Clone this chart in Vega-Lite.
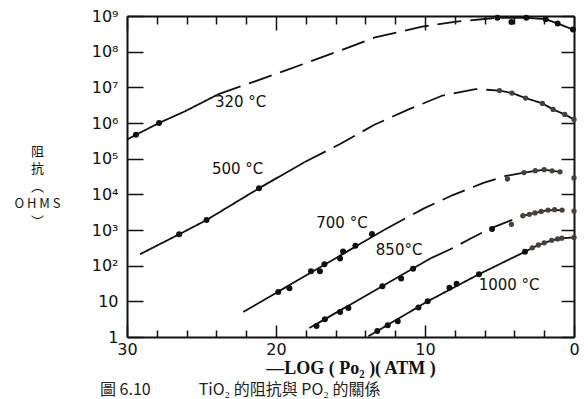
{
  "$schema": "https://vega.github.io/schema/vega-lite/v6.json",
  "width": 447,
  "height": 321,
  "autosize": {"type": "none"},
  "padding": {"left": 127, "top": 16, "right": 14, "bottom": 62},
  "background": "white",
  "config": {
    "view": {"stroke": null},
    "axis": {"domainColor": "#111", "domainWidth": 2, "tickColor": "#111", "tickWidth": 1.5, "grid": false, "labelColor": "#111", "titleColor": "#111"}
  },
  "title": {"text": "圖 6.10　　　TiO₂ 的阻抗與 PO₂ 的關係", "orient": "bottom", "anchor": "start", "frame": "group", "dx": -27, "offset": 5, "font": "Noto Sans CJK TC", "fontSize": 16, "fontWeight": "normal", "color": "#222"},
  "datasets": {
    "lines": [
      {"c": "320", "g": "a", "s": "solid", "x": 30, "r": 338844},
      {"c": "320", "g": "a", "s": "solid", "x": 29.4, "r": 467735},
      {"c": "320", "g": "a", "s": "solid", "x": 27.85, "r": 1000000},
      {"c": "320", "g": "a", "s": "solid", "x": 26.1, "r": 2138000},
      {"c": "320", "g": "a", "s": "solid", "x": 23.9, "r": 6310000},
      {"c": "320", "g": "b", "s": "dashed", "x": 23.9, "r": 6310000},
      {"c": "320", "g": "b", "s": "dashed", "x": 19.3, "r": 30200000},
      {"c": "320", "g": "b", "s": "dashed", "x": 15.9, "r": 100000000},
      {"c": "320", "g": "b", "s": "dashed", "x": 13.35, "r": 251200000},
      {"c": "320", "g": "b", "s": "dashed", "x": 10.2, "r": 501200000},
      {"c": "320", "g": "b", "s": "dashed", "x": 7.9, "r": 691800000},
      {"c": "320", "g": "b", "s": "dashed", "x": 5.7, "r": 851100000},
      {"c": "320", "g": "b", "s": "dashed", "x": 5.14, "r": 891300000},
      {"c": "320", "g": "c", "s": "solid", "x": 5.14, "r": 891300000},
      {"c": "320", "g": "c", "s": "solid", "x": 3.2, "r": 891300000},
      {"c": "320", "g": "c", "s": "solid", "x": 1.9, "r": 812800000},
      {"c": "320", "g": "c", "s": "solid", "x": 1.1, "r": 616600000},
      {"c": "320", "g": "c", "s": "solid", "x": 0.07, "r": 416900000},
      {"c": "500", "g": "a", "s": "solid", "x": 29.13, "r": 208.9},
      {"c": "500", "g": "a", "s": "solid", "x": 26.5, "r": 758.6},
      {"c": "500", "g": "a", "s": "solid", "x": 24.66, "r": 1905},
      {"c": "500", "g": "a", "s": "solid", "x": 21.14, "r": 14791},
      {"c": "500", "g": "a", "s": "solid", "x": 18.1, "r": 79433},
      {"c": "500", "g": "b", "s": "dashed", "x": 18.1, "r": 79433},
      {"c": "500", "g": "b", "s": "dashed", "x": 15.7, "r": 257040},
      {"c": "500", "g": "b", "s": "dashed", "x": 13.4, "r": 891251},
      {"c": "500", "g": "b", "s": "dashed", "x": 11.1, "r": 2399000},
      {"c": "500", "g": "b", "s": "dashed", "x": 8.82, "r": 5888000},
      {"c": "500", "g": "b", "s": "dashed", "x": 6.6, "r": 8913000},
      {"c": "500", "g": "b", "s": "dashed", "x": 5.0, "r": 8128000},
      {"c": "500", "g": "c", "s": "solid", "x": 5.0, "r": 8128000},
      {"c": "500", "g": "c", "s": "solid", "x": 4.16, "r": 6918000},
      {"c": "500", "g": "c", "s": "solid", "x": 3.25, "r": 5012000},
      {"c": "500", "g": "c", "s": "solid", "x": 2.12, "r": 3548000},
      {"c": "500", "g": "c", "s": "solid", "x": 1.4, "r": 2399000},
      {"c": "500", "g": "c", "s": "solid", "x": 0.62, "r": 1738000},
      {"c": "500", "g": "c", "s": "solid", "x": 0, "r": 1259000},
      {"c": "700", "g": "a", "s": "solid", "x": 22.2, "r": 5.012},
      {"c": "700", "g": "a", "s": "solid", "x": 12.75, "r": 1000},
      {"c": "700", "g": "b", "s": "dashed", "x": 12.75, "r": 1000},
      {"c": "700", "g": "b", "s": "dashed", "x": 10.1, "r": 3981},
      {"c": "700", "g": "b", "s": "dashed", "x": 8.13, "r": 9550},
      {"c": "700", "g": "b", "s": "dashed", "x": 6.08, "r": 20893},
      {"c": "700", "g": "b", "s": "dashed", "x": 4.64, "r": 32359},
      {"c": "700", "g": "b", "s": "dashed", "x": 3.36, "r": 40738},
      {"c": "700", "g": "c", "s": "solid", "x": 3.36, "r": 40738},
      {"c": "700", "g": "c", "s": "solid", "x": 2.0, "r": 48978},
      {"c": "700", "g": "c", "s": "solid", "x": 1.47, "r": 45709},
      {"c": "700", "g": "c", "s": "solid", "x": 0.94, "r": 42658},
      {"c": "850", "g": "a", "s": "solid", "x": 17.76, "r": 1.778},
      {"c": "850", "g": "a", "s": "solid", "x": 9.6, "r": 162.2},
      {"c": "850", "g": "b", "s": "dashed", "x": 9.6, "r": 162.2},
      {"c": "850", "g": "b", "s": "dashed", "x": 8.3, "r": 288.4},
      {"c": "850", "g": "b", "s": "dashed", "x": 6.93, "r": 575.4},
      {"c": "850", "g": "b", "s": "dashed", "x": 5.69, "r": 1072},
      {"c": "850", "g": "b", "s": "dashed", "x": 3.43, "r": 2512},
      {"c": "850", "g": "c", "s": "solid", "x": 3.43, "r": 2512},
      {"c": "850", "g": "c", "s": "solid", "x": 2.62, "r": 3020},
      {"c": "850", "g": "c", "s": "solid", "x": 1.74, "r": 3631},
      {"c": "850", "g": "c", "s": "solid", "x": 0.8, "r": 3631},
      {"c": "1000", "g": "a", "s": "solid", "x": 13.8, "r": 1.047},
      {"c": "1000", "g": "a", "s": "solid", "x": 9.82, "r": 10},
      {"c": "1000", "g": "a", "s": "solid", "x": 6.38, "r": 57.5},
      {"c": "1000", "g": "a", "s": "solid", "x": 3.29, "r": 245.5},
      {"c": "1000", "g": "a", "s": "solid", "x": 2.39, "r": 380.2},
      {"c": "1000", "g": "a", "s": "solid", "x": 1.5, "r": 512.9},
      {"c": "1000", "g": "a", "s": "solid", "x": 0.82, "r": 588.8},
      {"c": "1000", "g": "a", "s": "solid", "x": 0, "r": 616.6}
    ],
    "pts": [
      {"c": "320", "x": 29.4, "r": 467735},
      {"c": "320", "x": 27.85, "r": 1000000},
      {"c": "320", "x": 5.14, "r": 891300000},
      {"c": "320", "x": 4.2, "r": 676100000},
      {"c": "320", "x": 3.2, "r": 891300000},
      {"c": "320", "x": 1.9, "r": 812800000},
      {"c": "320", "x": 1.1, "r": 616600000},
      {"c": "320", "x": 0.07, "r": 416900000},
      {"c": "500", "x": 26.5, "r": 758.6},
      {"c": "500", "x": 24.66, "r": 1905},
      {"c": "500", "x": 21.14, "r": 14791},
      {"c": "700", "x": 19.85, "r": 18.2},
      {"c": "700", "x": 19.1, "r": 23.44},
      {"c": "700", "x": 17.65, "r": 69.2},
      {"c": "700", "x": 17.05, "r": 69.2},
      {"c": "700", "x": 16.75, "r": 109.6},
      {"c": "700", "x": 15.7, "r": 158.5},
      {"c": "700", "x": 15.5, "r": 251.2},
      {"c": "700", "x": 14.67, "r": 363.1},
      {"c": "700", "x": 13.56, "r": 776.2},
      {"c": "850", "x": 17.28, "r": 2.042},
      {"c": "850", "x": 16.72, "r": 3.162},
      {"c": "850", "x": 15.7, "r": 5.012},
      {"c": "850", "x": 15.14, "r": 6.457},
      {"c": "850", "x": 12.86, "r": 26.3},
      {"c": "850", "x": 11.6, "r": 43.65},
      {"c": "850", "x": 10.8, "r": 81.3},
      {"c": "850", "x": 5.5, "r": 1072},
      {"c": "1000", "x": 13.2, "r": 1.479},
      {"c": "1000", "x": 12.5, "r": 2.138},
      {"c": "1000", "x": 11.83, "r": 2.754},
      {"c": "1000", "x": 10.44, "r": 6.761},
      {"c": "1000", "x": 9.82, "r": 10},
      {"c": "1000", "x": 8.36, "r": 23.99},
      {"c": "1000", "x": 7.88, "r": 30.9},
      {"c": "1000", "x": 6.38, "r": 57.5},
      {"c": "1000", "x": 3.29, "r": 245.5}
    ],
    "tail": [
      {"c": "500", "x": 5.0, "r": 8128000},
      {"c": "500", "x": 4.16, "r": 6918000},
      {"c": "500", "x": 3.25, "r": 5012000},
      {"c": "500", "x": 2.12, "r": 3548000},
      {"c": "500", "x": 1.4, "r": 2399000},
      {"c": "500", "x": 0.62, "r": 1738000},
      {"c": "500", "x": 0, "r": 1259000},
      {"c": "700", "x": 4.46, "r": 26915},
      {"c": "700", "x": 3.36, "r": 40738},
      {"c": "700", "x": 2.6, "r": 46000},
      {"c": "700", "x": 2.0, "r": 48978},
      {"c": "700", "x": 1.47, "r": 45709},
      {"c": "700", "x": 0.94, "r": 42658},
      {"c": "700", "x": 0, "r": 28840},
      {"c": "850", "x": 4.2, "r": 1445},
      {"c": "850", "x": 3.43, "r": 2512},
      {"c": "850", "x": 3.0, "r": 2754},
      {"c": "850", "x": 2.62, "r": 3020},
      {"c": "850", "x": 2.2, "r": 3311},
      {"c": "850", "x": 1.74, "r": 3631},
      {"c": "850", "x": 1.3, "r": 3715},
      {"c": "850", "x": 0.8, "r": 3631},
      {"c": "850", "x": 0, "r": 3388},
      {"c": "1000", "x": 2.8, "r": 316.2},
      {"c": "1000", "x": 2.39, "r": 380.2},
      {"c": "1000", "x": 2.0, "r": 436.5},
      {"c": "1000", "x": 1.5, "r": 512.9},
      {"c": "1000", "x": 1.1, "r": 562.3},
      {"c": "1000", "x": 0.82, "r": 588.8},
      {"c": "1000", "x": 0, "r": 616.6}
    ],
    "labels": [
      {"t": "320 °C", "x": 24.1, "r": 3800000},
      {"t": "500 °C", "x": 24.3, "r": 50000},
      {"t": "700 °C", "x": 17.3, "r": 1622},
      {"t": "850°C", "x": 13.3, "r": 275},
      {"t": "1000 °C", "x": 6.4, "r": 28.8}
    ]
  },
  "layer": [
    {
      "data": {"name": "lines"},
      "mark": {"type": "line", "strokeWidth": 1.8, "color": "#111"},
      "encoding": {
        "x": {"field": "x", "type": "quantitative", "scale": {"domain": [0, 30], "reverse": true, "nice": false, "zero": false},
          "axis": {"orient": "bottom", "values": [0, 2, 4, 6, 8, 10, 12, 14, 16, 18, 20, 22, 24, 26, 28, 30],
            "labelExpr": "datum.value % 10 === 0 ? datum.label : ''",
            "tickSize": {"condition": {"test": "datum.value % 10 === 0", "value": -12}, "value": -7},
            "labelPadding": 16, "labelFont": "DejaVu Sans", "labelFontSize": 16, "labelFlush": false,
            "title": "—LOG ( Po₂ )( ATM )", "titleFont": "Liberation Serif", "titleFontSize": 18, "titleFontWeight": "bold", "titlePadding": 2}},
        "y": {"field": "r", "type": "quantitative", "scale": {"type": "log", "domain": [1, 1000000000], "nice": false},
          "axis": {"orient": "left", "values": [1, 10, 100, 1000, 10000, 100000, 1000000, 10000000, 100000000, 1000000000],
            "labelExpr": "datum.value < 5 ? '1' : datum.value < 50 ? '10' : '10' + ['','','²','³','⁴','⁵','⁶','⁷','⁸','⁹'][round(log(datum.value)/LN10)]",
            "tickSize": -16, "labelPadding": 25, "labelFont": "DejaVu Sans", "labelFontSize": 16, "labelFlush": false,
            "title": ["阻", "抗", "︵", "O H M S", "︶"], "titleAngle": 0, "titleX": -90, "titleY": 129, "titleAlign": "center", "titleBaseline": "top",
            "titleFont": "Noto Sans CJK TC", "titleFontSize": 13, "titleFontWeight": "normal", "titleLineHeight": 17.5}},
        "detail": [{"field": "c"}, {"field": "g"}],
        "strokeDash": {"field": "s", "type": "nominal", "scale": {"domain": ["solid", "dashed"], "range": [[1, 0], [24, 9]]}, "legend": null}
      }
    },
    {
      "data": {"name": "pts"},
      "mark": {"type": "point", "filled": true, "shape": "circle", "size": 36, "color": "#111", "opacity": 1},
      "encoding": {
        "x": {"field": "x", "type": "quantitative",
          "axis": {"orient": "top", "values": [0, 2, 4, 6, 8, 10, 12, 14, 16, 18, 20, 22, 24, 26, 28, 30], "labels": false, "title": null,
            "tickSize": {"condition": {"test": "datum.value % 10 === 0", "value": -14}, "value": -8}}},
        "y": {"field": "r", "type": "quantitative",
          "axis": {"orient": "right", "values": [1, 10, 100, 1000, 10000, 100000, 1000000, 10000000, 100000000, 1000000000], "labels": false, "title": null, "tickSize": -13}}
      }
    },
    {
      "data": {"name": "tail"},
      "mark": {"type": "point", "filled": true, "shape": "circle", "size": 28, "color": "#4a403a", "opacity": 1},
      "encoding": {
        "x": {"field": "x", "type": "quantitative", "axis": null},
        "y": {"field": "r", "type": "quantitative", "axis": null}
      }
    },
    {
      "data": {"name": "labels"},
      "mark": {"type": "text", "align": "left", "baseline": "middle", "font": "DejaVu Sans", "fontSize": 15, "color": "#111"},
      "encoding": {
        "x": {"field": "x", "type": "quantitative", "axis": null},
        "y": {"field": "r", "type": "quantitative", "axis": null},
        "text": {"field": "t"}
      }
    }
  ],
  "resolve": {"axis": {"x": "independent", "y": "independent"}}
}
